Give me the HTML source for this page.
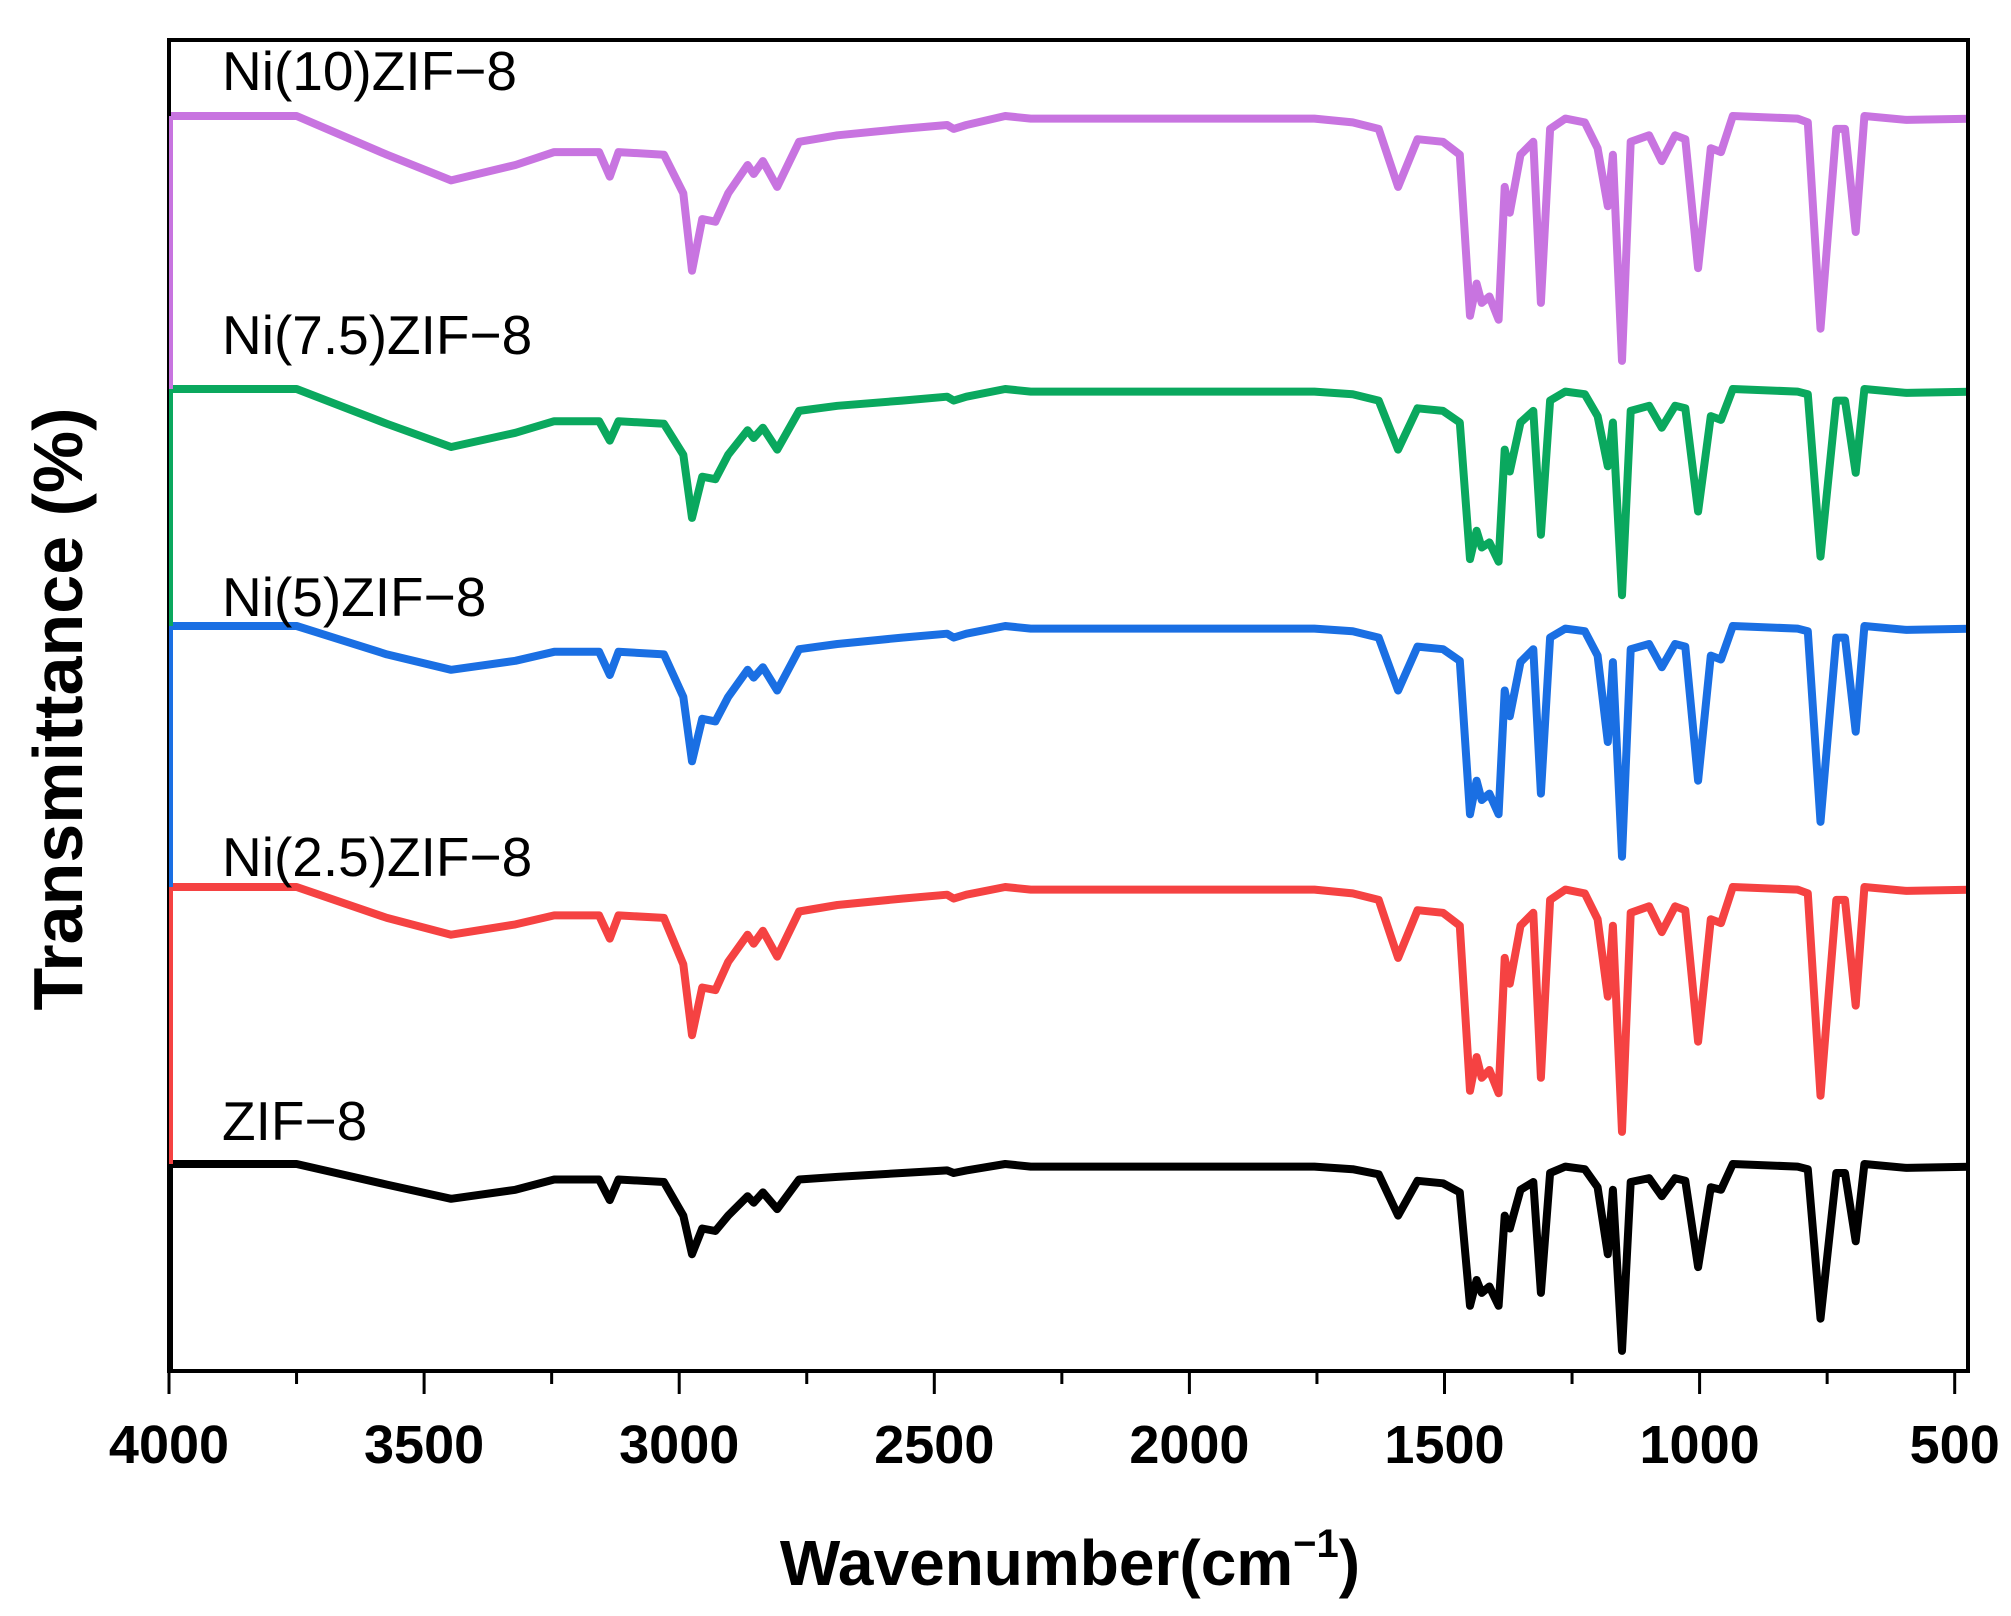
<!DOCTYPE html>
<html><head><meta charset="utf-8"><style>
html,body{margin:0;padding:0;background:#fff}
svg{display:block}
</style></head><body>
<svg id="chart" width="2011" height="1616" viewBox="0 0 2011 1616" xmlns="http://www.w3.org/2000/svg">
<defs><clipPath id="plotclip"><rect x="169" y="40" width="1800" height="1331"/></clipPath></defs>
<g id="series" clip-path="url(#plotclip)"></g>
<rect x="169" y="40" width="1799" height="1331" fill="none" stroke="#000" stroke-width="4"/>
<g id="edges"></g>
<g id="xaxis"></g>
<text x="1070" y="1585" text-anchor="middle" font-family="Liberation Sans, sans-serif" font-weight="bold" font-size="64">Wavenumber(cm<tspan font-size="40" dy="-28">−1</tspan><tspan dy="28">)</tspan></text>
<text transform="translate(82,709) rotate(-90)" text-anchor="middle" font-family="Liberation Sans, sans-serif" font-weight="bold" font-size="70">Transmittance (%)</text>
<g font-family="Liberation Sans, sans-serif" font-size="55" fill="#000">
<text x="222" y="90">Ni(10)ZIF−8</text>
<text x="222" y="354">Ni(7.5)ZIF−8</text>
<text x="222" y="616">Ni(5)ZIF−8</text>
<text x="222" y="876">Ni(2.5)ZIF−8</text>
<text x="222" y="1140">ZIF−8</text>
</g>
</svg>
<script>
const wavenumbers=[4000,3750,3573,3447,3321,3245,3157,3136,3119,3030,2992,2975,2955,2929,2904,2866,2854,2836,2808,2765,2690,2563,2475,2462,2437,2361,2311,1755,1680,1629,1591,1553,1503,1470,1450,1437,1427,1412,1394,1382,1372,1351,1326,1311,1293,1263,1225,1200,1180,1170,1152,1135,1099,1074,1048,1028,1003,978,958,935,808,788,763,732,715,694,677,594,460];
const ni10=[0,0,30,50,38,28,28,47,28,30,60,120,80,82,60,38,45,35,55,20,15,10,7,10,7,0,2,2,5,10,55,18,20,30,155,130,145,140,158,55,75,30,20,145,10,2,5,25,70,30,190,20,15,35,15,18,118,25,28,0,2,5,165,10,10,90,0,3,2];
const ni75=[0,0,27,45,34,25,25,40,25,27,51,100,68,70,51,32,38,30,47,17,13,9,6,9,6,0,2,2,4,9,47,15,17,26,132,110,123,119,134,47,64,26,17,113,9,2,4,21,60,26,160,17,13,30,13,15,95,21,24,0,2,4,130,9,9,65,0,3,2];
const ni5=[0,0,22,34,27,20,20,38,20,22,55,105,72,74,55,34,40,32,50,18,14,9,6,9,6,0,2,2,4,9,50,16,18,27,146,120,135,130,146,50,70,28,18,130,9,2,4,23,90,28,179,18,14,32,14,16,120,23,26,0,2,4,152,9,9,82,0,3,2];
const ni25=[0,0,24,37,29,22,22,40,22,24,60,115,78,80,58,37,44,34,54,19,14,9,6,9,6,0,2,2,5,10,55,18,20,30,158,132,148,142,160,55,75,30,20,148,10,2,5,25,85,30,190,20,15,35,15,18,120,25,28,0,2,5,162,10,10,92,0,3,2];
const zif8=[0,0,16,27,20,12,12,28,12,14,40,70,50,52,40,25,30,22,35,12,10,7,5,7,5,0,2,2,4,8,40,13,15,22,110,90,100,95,110,40,50,20,14,100,7,2,4,18,70,20,145,14,11,25,11,13,80,18,20,0,2,4,120,7,7,60,0,3,2];
const xTicks=[4000,3500,3000,2500,2000,1500,1000,500];
const NS="http://www.w3.org/2000/svg";
function xPos(wn){return 169+(4000-wn)/500*255.1;}
function yDepth(d){return d*1.289;}
const seriesList=[
 {name:'series-ni10',data:ni10,base:116,color:'#c874e0',edge:[116,390]},
 {name:'series-ni75',data:ni75,base:389,color:'#0aa85e',edge:[389,700]},
 {name:'series-ni5',data:ni5,base:626,color:'#1a6fe3',edge:[626,940]},
 {name:'series-ni25',data:ni25,base:887,color:'#f54242',edge:[887,1200]},
 {name:'series-zif8',data:zif8,base:1164,color:'#000000',edge:[1164,1371]}
];
const sg=document.getElementById('series');
const eg=document.getElementById('edges');
seriesList.forEach(s=>{
 let d='';
 s.data.forEach((v,i)=>{d+=(i?'L':'M')+xPos(wavenumbers[i]).toFixed(1)+','+(s.base+yDepth(v)).toFixed(1);});
 const p=document.createElementNS(NS,'path');
 p.setAttribute('d',d);p.setAttribute('fill','none');p.setAttribute('stroke',s.color);
 p.setAttribute('stroke-width','8');p.setAttribute('stroke-linejoin','round');p.setAttribute('stroke-linecap','round');
 
 
 sg.appendChild(p);
 const l=document.createElementNS(NS,'line');
 l.setAttribute('x1',171);l.setAttribute('x2',171);l.setAttribute('y1',s.edge[0]);l.setAttribute('y2',s.edge[1]);
 l.setAttribute('stroke',s.color);l.setAttribute('stroke-width','4');
 
 
 eg.appendChild(l);
});
const xg=document.getElementById('xaxis');
xTicks.forEach((t,i)=>{
 const x=xPos(t);
 const tk=document.createElementNS(NS,'line');
 tk.setAttribute('x1',x);tk.setAttribute('x2',x);tk.setAttribute('y1',1371);tk.setAttribute('y2',1394);
 tk.setAttribute('stroke','#000');tk.setAttribute('stroke-width','3');
 
 
 xg.appendChild(tk);
 if(i<xTicks.length-1){
  const mx=xPos(t-250);
  const mt=document.createElementNS(NS,'line');
  mt.setAttribute('x1',mx);mt.setAttribute('x2',mx);mt.setAttribute('y1',1371);mt.setAttribute('y2',1384);
  mt.setAttribute('stroke','#000');mt.setAttribute('stroke-width','3');
  
  
  xg.appendChild(mt);
 }
 const tx=document.createElementNS(NS,'text');
 tx.setAttribute('x',x);tx.setAttribute('y',1463);tx.setAttribute('text-anchor','middle');
 tx.setAttribute('font-family','Liberation Sans, sans-serif');tx.setAttribute('font-weight','bold');tx.setAttribute('font-size','54');
 tx.textContent=t;
 
 
 xg.appendChild(tx);
});
</script>
</body></html>
